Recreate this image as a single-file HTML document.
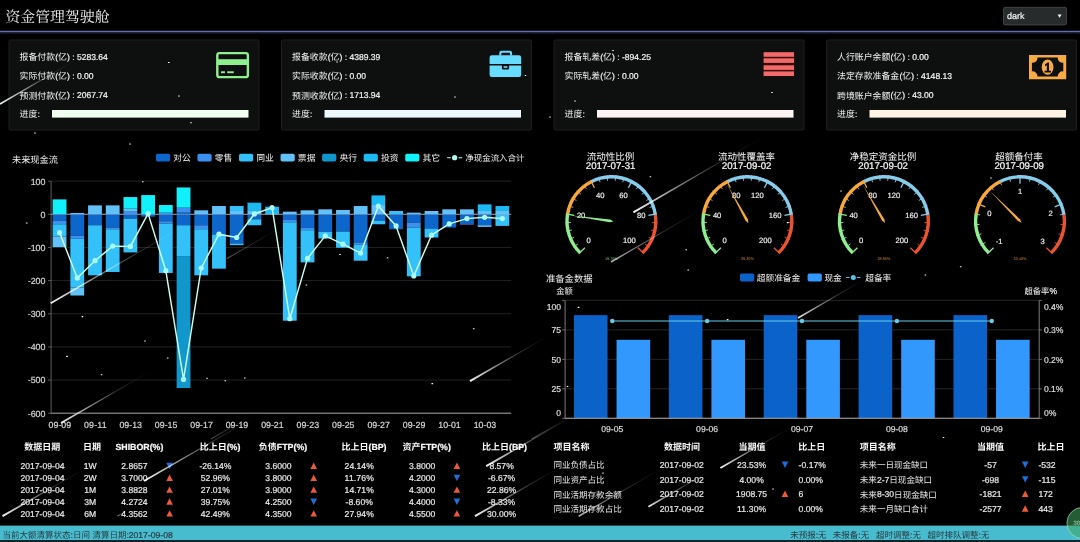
<!DOCTYPE html>
<html lang="zh"><head><meta charset="utf-8"><title>资金管理驾驶舱</title>
<style>html,body{margin:0;padding:0;background:#000;width:1080px;height:542px;overflow:hidden;font-family:"Liberation Sans","Noto Sans CJK SC",sans-serif}</style></head>
<body>
<svg role="img" aria-label="资金管理驾驶舱" width="1080" height="542" viewBox="0 0 1080 542" font-family="'Liberation Sans', 'Noto Sans CJK SC', sans-serif" text-rendering="geometricPrecision" style="position:absolute;left:0;top:0;display:block;will-change:transform;filter:blur(0.38px)"><defs><linearGradient id="k0" gradientUnits="userSpaceOnUse" x1="0" y1="104" x2="75" y2="60.5"><stop offset="0" stop-color="#fff" stop-opacity="0.95"/><stop offset=".3" stop-color="#fff" stop-opacity="0.57"/><stop offset=".62" stop-color="#fff" stop-opacity="0.19"/><stop offset="1" stop-color="#fff" stop-opacity="0"/></linearGradient><linearGradient id="k1" gradientUnits="userSpaceOnUse" x1="50.7" y1="303.2" x2="190" y2="222.5"><stop offset="0" stop-color="#fff" stop-opacity="0.95"/><stop offset=".3" stop-color="#fff" stop-opacity="0.57"/><stop offset=".62" stop-color="#fff" stop-opacity="0.19"/><stop offset="1" stop-color="#fff" stop-opacity="0"/></linearGradient><linearGradient id="k2" gradientUnits="userSpaceOnUse" x1="227" y1="258.6" x2="290" y2="222"><stop offset="0" stop-color="#fff" stop-opacity="0.35"/><stop offset=".3" stop-color="#fff" stop-opacity="0.21"/><stop offset=".62" stop-color="#fff" stop-opacity="0.07"/><stop offset="1" stop-color="#fff" stop-opacity="0"/></linearGradient><linearGradient id="k3" gradientUnits="userSpaceOnUse" x1="61" y1="423" x2="150" y2="371.5"><stop offset="0" stop-color="#fff" stop-opacity="0.95"/><stop offset=".3" stop-color="#fff" stop-opacity="0.57"/><stop offset=".62" stop-color="#fff" stop-opacity="0.19"/><stop offset="1" stop-color="#fff" stop-opacity="0"/></linearGradient><linearGradient id="k4" gradientUnits="userSpaceOnUse" x1="211" y1="439" x2="262" y2="409.5"><stop offset="0" stop-color="#fff" stop-opacity="0.3"/><stop offset=".3" stop-color="#fff" stop-opacity="0.18"/><stop offset=".62" stop-color="#fff" stop-opacity="0.06"/><stop offset="1" stop-color="#fff" stop-opacity="0"/></linearGradient><linearGradient id="k5" gradientUnits="userSpaceOnUse" x1="470" y1="381.2" x2="548" y2="336"><stop offset="0" stop-color="#fff" stop-opacity="0.95"/><stop offset=".3" stop-color="#fff" stop-opacity="0.57"/><stop offset=".62" stop-color="#fff" stop-opacity="0.19"/><stop offset="1" stop-color="#fff" stop-opacity="0"/></linearGradient><linearGradient id="k6" gradientUnits="userSpaceOnUse" x1="531.7" y1="439" x2="580" y2="411"><stop offset="0" stop-color="#fff" stop-opacity="0.3"/><stop offset=".3" stop-color="#fff" stop-opacity="0.18"/><stop offset=".62" stop-color="#fff" stop-opacity="0.06"/><stop offset="1" stop-color="#fff" stop-opacity="0"/></linearGradient><linearGradient id="k7" gradientUnits="userSpaceOnUse" x1="633.4" y1="212.4" x2="765" y2="136"><stop offset="0" stop-color="#fff" stop-opacity="0.95"/><stop offset=".3" stop-color="#fff" stop-opacity="0.57"/><stop offset=".62" stop-color="#fff" stop-opacity="0.19"/><stop offset="1" stop-color="#fff" stop-opacity="0"/></linearGradient><linearGradient id="k8" gradientUnits="userSpaceOnUse" x1="611" y1="262" x2="705" y2="207.5"><stop offset="0" stop-color="#fff" stop-opacity="0.7"/><stop offset=".3" stop-color="#fff" stop-opacity="0.42"/><stop offset=".62" stop-color="#fff" stop-opacity="0.14"/><stop offset="1" stop-color="#fff" stop-opacity="0"/></linearGradient><linearGradient id="k9" gradientUnits="userSpaceOnUse" x1="798" y1="318" x2="865" y2="279"><stop offset="0" stop-color="#fff" stop-opacity="0.9"/><stop offset=".3" stop-color="#fff" stop-opacity="0.54"/><stop offset=".62" stop-color="#fff" stop-opacity="0.18"/><stop offset="1" stop-color="#fff" stop-opacity="0"/></linearGradient><linearGradient id="k10" gradientUnits="userSpaceOnUse" x1="2.5" y1="516.2" x2="85" y2="468.5"><stop offset="0" stop-color="#fff" stop-opacity="0.95"/><stop offset=".3" stop-color="#fff" stop-opacity="0.57"/><stop offset=".62" stop-color="#fff" stop-opacity="0.19"/><stop offset="1" stop-color="#fff" stop-opacity="0"/></linearGradient><linearGradient id="k11" gradientUnits="userSpaceOnUse" x1="144" y1="481" x2="262" y2="413"><stop offset="0" stop-color="#fff" stop-opacity="0.95"/><stop offset=".3" stop-color="#fff" stop-opacity="0.57"/><stop offset=".62" stop-color="#fff" stop-opacity="0.19"/><stop offset="1" stop-color="#fff" stop-opacity="0"/></linearGradient><linearGradient id="k12" gradientUnits="userSpaceOnUse" x1="117.5" y1="516" x2="128" y2="510"><stop offset="0" stop-color="#fff" stop-opacity="0.5"/><stop offset=".3" stop-color="#fff" stop-opacity="0.3"/><stop offset=".62" stop-color="#fff" stop-opacity="0.1"/><stop offset="1" stop-color="#fff" stop-opacity="0"/></linearGradient><linearGradient id="k13" gradientUnits="userSpaceOnUse" x1="486.2" y1="466.2" x2="575" y2="415"><stop offset="0" stop-color="#fff" stop-opacity="0.95"/><stop offset=".3" stop-color="#fff" stop-opacity="0.57"/><stop offset=".62" stop-color="#fff" stop-opacity="0.19"/><stop offset="1" stop-color="#fff" stop-opacity="0"/></linearGradient><linearGradient id="k14" gradientUnits="userSpaceOnUse" x1="475" y1="516.2" x2="560" y2="467"><stop offset="0" stop-color="#fff" stop-opacity="0.95"/><stop offset=".3" stop-color="#fff" stop-opacity="0.57"/><stop offset=".62" stop-color="#fff" stop-opacity="0.19"/><stop offset="1" stop-color="#fff" stop-opacity="0"/></linearGradient><linearGradient id="k15" gradientUnits="userSpaceOnUse" x1="578.7" y1="516.2" x2="665" y2="466.5"><stop offset="0" stop-color="#fff" stop-opacity="0.7"/><stop offset=".3" stop-color="#fff" stop-opacity="0.42"/><stop offset=".62" stop-color="#fff" stop-opacity="0.14"/><stop offset="1" stop-color="#fff" stop-opacity="0"/></linearGradient><linearGradient id="k16" gradientUnits="userSpaceOnUse" x1="648.4" y1="506.7" x2="710" y2="471"><stop offset="0" stop-color="#fff" stop-opacity="0.9"/><stop offset=".3" stop-color="#fff" stop-opacity="0.54"/><stop offset=".62" stop-color="#fff" stop-opacity="0.18"/><stop offset="1" stop-color="#fff" stop-opacity="0"/></linearGradient><linearGradient id="k17" gradientUnits="userSpaceOnUse" x1="720.4" y1="468" x2="790" y2="428"><stop offset="0" stop-color="#fff" stop-opacity="0.95"/><stop offset=".3" stop-color="#fff" stop-opacity="0.57"/><stop offset=".62" stop-color="#fff" stop-opacity="0.19"/><stop offset="1" stop-color="#fff" stop-opacity="0"/></linearGradient></defs><text x="5.4" y="21.69" font-size="14.9" fill="#f2f2f2" font-family="'Liberation Serif', 'Noto Serif CJK SC', serif">资金管理驾驶舱</text><rect x="0" y="30.8" width="1080" height="1.6" fill="#5f6fae"/><rect x="0" y="32.4" width="1080" height="1.2" fill="#1a1f38"/><rect x="1003.5" y="7.3" width="63" height="17.6" rx="1.6" fill="#272b2b" stroke="#4a4d4d" stroke-width="0.8"/><text x="1007" y="19.24" font-size="9" fill="#f0f0f0" stroke="#f0f0f0" stroke-width="0.22" textLength="17.51" lengthAdjust="spacing" xml:space="preserve">dark</text><path d="M1057.6 14.4h4l-2 3.4z" fill="#f4f4f4"/><rect x="9" y="40" width="250" height="90" rx="1" fill="#0e0f0f" stroke="#1d1e1e" stroke-width="1"/><text x="19.6" y="60.14" font-size="8.9" fill="#f4f4f4">报备付款</text><text x="55.2" y="59.88" font-size="8.55" fill="#f4f4f4" stroke="#f4f4f4" stroke-width="0.21" xml:space="preserve">(</text><text x="58.05" y="60.14" font-size="8.9" fill="#f4f4f4">亿</text><text x="66.95" y="59.88" font-size="8.55" fill="#f4f4f4" stroke="#f4f4f4" stroke-width="0.21" textLength="40.88" lengthAdjust="spacing" xml:space="preserve">) : 5283.64</text><text x="19.6" y="79.34" font-size="8.9" fill="#f4f4f4">实际付款</text><text x="55.2" y="79.08" font-size="8.55" fill="#f4f4f4" stroke="#f4f4f4" stroke-width="0.21" xml:space="preserve">(</text><text x="58.05" y="79.34" font-size="8.9" fill="#f4f4f4">亿</text><text x="66.95" y="79.08" font-size="8.55" fill="#f4f4f4" stroke="#f4f4f4" stroke-width="0.21" textLength="26.61" lengthAdjust="spacing" xml:space="preserve">) : 0.00</text><text x="19.6" y="98.54" font-size="8.9" fill="#f4f4f4">预测付款</text><text x="55.2" y="98.28" font-size="8.55" fill="#f4f4f4" stroke="#f4f4f4" stroke-width="0.21" xml:space="preserve">(</text><text x="58.05" y="98.54" font-size="8.9" fill="#f4f4f4">亿</text><text x="66.95" y="98.28" font-size="8.55" fill="#f4f4f4" stroke="#f4f4f4" stroke-width="0.21" textLength="40.88" lengthAdjust="spacing" xml:space="preserve">) : 2067.74</text><text x="19.6" y="116.94" font-size="8.9" fill="#f4f4f4">进度</text><text x="37.4" y="116.68" font-size="8.55" fill="#f4f4f4" stroke="#f4f4f4" stroke-width="0.21" xml:space="preserve">:</text><rect x="52" y="110" width="196.5" height="7.6" fill="#f1fff1"/><rect x="281.5" y="40" width="250" height="90" rx="1" fill="#0e0f0f" stroke="#1d1e1e" stroke-width="1"/><text x="292.1" y="60.14" font-size="8.9" fill="#f4f4f4">报备收款</text><text x="327.7" y="59.88" font-size="8.55" fill="#f4f4f4" stroke="#f4f4f4" stroke-width="0.21" xml:space="preserve">(</text><text x="330.55" y="60.14" font-size="8.9" fill="#f4f4f4">亿</text><text x="339.45" y="59.88" font-size="8.55" fill="#f4f4f4" stroke="#f4f4f4" stroke-width="0.21" textLength="40.88" lengthAdjust="spacing" xml:space="preserve">) : 4389.39</text><text x="292.1" y="79.34" font-size="8.9" fill="#f4f4f4">实际收款</text><text x="327.7" y="79.08" font-size="8.55" fill="#f4f4f4" stroke="#f4f4f4" stroke-width="0.21" xml:space="preserve">(</text><text x="330.55" y="79.34" font-size="8.9" fill="#f4f4f4">亿</text><text x="339.45" y="79.08" font-size="8.55" fill="#f4f4f4" stroke="#f4f4f4" stroke-width="0.21" textLength="26.61" lengthAdjust="spacing" xml:space="preserve">) : 0.00</text><text x="292.1" y="98.54" font-size="8.9" fill="#f4f4f4">预测收款</text><text x="327.7" y="98.28" font-size="8.55" fill="#f4f4f4" stroke="#f4f4f4" stroke-width="0.21" xml:space="preserve">(</text><text x="330.55" y="98.54" font-size="8.9" fill="#f4f4f4">亿</text><text x="339.45" y="98.28" font-size="8.55" fill="#f4f4f4" stroke="#f4f4f4" stroke-width="0.21" textLength="40.88" lengthAdjust="spacing" xml:space="preserve">) : 1713.94</text><text x="292.1" y="116.94" font-size="8.9" fill="#f4f4f4">进度</text><text x="309.9" y="116.68" font-size="8.55" fill="#f4f4f4" stroke="#f4f4f4" stroke-width="0.21" xml:space="preserve">:</text><rect x="324.5" y="110" width="196.5" height="7.6" fill="#eefaff"/><rect x="554" y="40" width="250" height="90" rx="1" fill="#0e0f0f" stroke="#1d1e1e" stroke-width="1"/><text x="564.6" y="60.14" font-size="8.9" fill="#f4f4f4">报备轧差</text><text x="600.2" y="59.88" font-size="8.55" fill="#f4f4f4" stroke="#f4f4f4" stroke-width="0.21" xml:space="preserve">(</text><text x="603.05" y="60.14" font-size="8.9" fill="#f4f4f4">亿</text><text x="611.95" y="59.88" font-size="8.55" fill="#f4f4f4" stroke="#f4f4f4" stroke-width="0.21" textLength="38.97" lengthAdjust="spacing" xml:space="preserve">) : -894.25</text><text x="564.6" y="79.34" font-size="8.9" fill="#f4f4f4">实际轧差</text><text x="600.2" y="79.08" font-size="8.55" fill="#f4f4f4" stroke="#f4f4f4" stroke-width="0.21" xml:space="preserve">(</text><text x="603.05" y="79.34" font-size="8.9" fill="#f4f4f4">亿</text><text x="611.95" y="79.08" font-size="8.55" fill="#f4f4f4" stroke="#f4f4f4" stroke-width="0.21" textLength="26.61" lengthAdjust="spacing" xml:space="preserve">) : 0.00</text><text x="564.6" y="116.94" font-size="8.9" fill="#f4f4f4">进度</text><text x="582.4" y="116.68" font-size="8.55" fill="#f4f4f4" stroke="#f4f4f4" stroke-width="0.21" xml:space="preserve">:</text><rect x="597" y="110" width="196.5" height="7.6" fill="#fff3f3"/><rect x="826.5" y="40" width="250" height="90" rx="1" fill="#0e0f0f" stroke="#1d1e1e" stroke-width="1"/><text x="837.1" y="60.14" font-size="8.9" fill="#f4f4f4">人行账户余额</text><text x="890.5" y="59.88" font-size="8.55" fill="#f4f4f4" stroke="#f4f4f4" stroke-width="0.21" xml:space="preserve">(</text><text x="893.35" y="60.14" font-size="8.9" fill="#f4f4f4">亿</text><text x="902.25" y="59.88" font-size="8.55" fill="#f4f4f4" stroke="#f4f4f4" stroke-width="0.21" textLength="26.61" lengthAdjust="spacing" xml:space="preserve">) : 0.00</text><text x="837.1" y="79.34" font-size="8.9" fill="#f4f4f4">法定存款准备金</text><text x="899.4" y="79.08" font-size="8.55" fill="#f4f4f4" stroke="#f4f4f4" stroke-width="0.21" xml:space="preserve">(</text><text x="902.25" y="79.34" font-size="8.9" fill="#f4f4f4">亿</text><text x="911.15" y="79.08" font-size="8.55" fill="#f4f4f4" stroke="#f4f4f4" stroke-width="0.21" textLength="40.88" lengthAdjust="spacing" xml:space="preserve">) : 4148.13</text><text x="837.1" y="98.54" font-size="8.9" fill="#f4f4f4">跨境账户余额</text><text x="890.5" y="98.28" font-size="8.55" fill="#f4f4f4" stroke="#f4f4f4" stroke-width="0.21" xml:space="preserve">(</text><text x="893.35" y="98.54" font-size="8.9" fill="#f4f4f4">亿</text><text x="902.25" y="98.28" font-size="8.55" fill="#f4f4f4" stroke="#f4f4f4" stroke-width="0.21" textLength="31.37" lengthAdjust="spacing" xml:space="preserve">) : 43.00</text><text x="837.1" y="116.94" font-size="8.9" fill="#f4f4f4">进度</text><text x="854.9" y="116.68" font-size="8.55" fill="#f4f4f4" stroke="#f4f4f4" stroke-width="0.21" xml:space="preserve">:</text><rect x="869.5" y="110" width="196.5" height="7.6" fill="#fff4e4"/><g fill="none" stroke="#8df08d"><rect x="217.3" y="53.1" width="30.6" height="24" rx="2.2" stroke-width="2.4"/></g><rect x="217.3" y="59.2" width="30.6" height="5.8" fill="#8df08d"/><rect x="221" y="71.3" width="4" height="1.9" fill="#8df08d"/><rect x="227.2" y="71.3" width="6.6" height="1.9" fill="#8df08d"/><g fill="#68dcff"><path d="M499.3 55.4v-2.4a2.2 2.2 0 0 1 2.2-2.2h8.4a2.2 2.2 0 0 1 2.2 2.2v2.4h-2v-1.6a1 1 0 0 0-1-1h-6.8a1 1 0 0 0-1 1v1.6z"/><path d="M491.8 55.2h27.2a2.2 2.2 0 0 1 2.2 2.2v6.6h-31.6v-6.6a2.2 2.2 0 0 1 2.2-2.2z"/><path d="M489.6 65.6h12.3v2.6a1.2 1.2 0 0 0 1.2 1.2h4.8a1.2 1.2 0 0 0 1.2-1.2v-2.6h12.1v9.2a2.2 2.2 0 0 1-2.2 2.2h-27.2a2.2 2.2 0 0 1-2.2-2.2z"/><rect x="503.6" y="66.2" width="3.8" height="1.6" /></g><rect x="763.2" y="51.8" width="31.2" height="24.6" fill="#3a0606"/><rect x="763.6" y="52.2" width="30.4" height="4.6" fill="#f26b6b"/><rect x="763.6" y="58.3" width="30.4" height="4.6" fill="#f26b6b"/><rect x="763.6" y="65.3" width="30.4" height="4.6" fill="#f26b6b"/><rect x="763.6" y="71.4" width="30.4" height="4.6" fill="#f26b6b"/><path fill="#f7ab45" fill-rule="evenodd" d="M1029 55h37.2v24.2h-37.2z M1037.5 57.6 a5 5 0 0 1 -5.6 5.2 v8.6 a5 5 0 0 1 5.6 5.2 h20.2 a5 5 0 0 1 5.6 -5.2 v-8.6 a5 5 0 0 1 -5.6 -5.2z"/><ellipse cx="1047.6" cy="67.1" rx="5.9" ry="7.6" fill="#f7ab45"/><path d="M1045 64.6l2.6-2.1h1.4v8.2h2v1.7h-6.4v-1.7h2.2v-5.4l-1.8 1z" fill="#0e0f0f"/><text x="12" y="162.75" font-size="9.2" fill="#f0f0f0">未来现金流</text><rect x="155.9" y="153.8" width="14.2" height="7.8" rx="1.8" fill="#0d66cc"/><text x="173.2" y="161.2" font-size="8.8" fill="#f0f0f0">对公</text><rect x="197.45" y="153.8" width="14.2" height="7.8" rx="1.8" fill="#3b90f2"/><text x="214.75" y="161.2" font-size="8.8" fill="#f0f0f0">零售</text><rect x="239" y="153.8" width="14.2" height="7.8" rx="1.8" fill="#34c1fa"/><text x="256.3" y="161.2" font-size="8.8" fill="#f0f0f0">同业</text><rect x="280.55" y="153.8" width="14.2" height="7.8" rx="1.8" fill="#62c1f9"/><text x="297.85" y="161.2" font-size="8.8" fill="#f0f0f0">票据</text><rect x="322.1" y="153.8" width="14.2" height="7.8" rx="1.8" fill="#1297cd"/><text x="339.4" y="161.2" font-size="8.8" fill="#f0f0f0">央行</text><rect x="363.65" y="153.8" width="14.2" height="7.8" rx="1.8" fill="#1bbaf2"/><text x="380.95" y="161.2" font-size="8.8" fill="#f0f0f0">投资</text><rect x="405.2" y="153.8" width="14.2" height="7.8" rx="1.8" fill="#10f1fb"/><text x="422.5" y="161.2" font-size="8.8" fill="#f0f0f0">其它</text><line x1="447.15" y1="157.7" x2="462.15" y2="157.7" stroke="#c6fff2" stroke-width="1.1" stroke-dasharray="3.6 7.8 3.6"/><circle cx="454.65" cy="157.7" r="2.6" fill="#a8fbf2"/><text x="465.35" y="161.07" font-size="8.45" fill="#f0f0f0">净现金流入合计</text><line x1="50.7" y1="181.15" x2="511.2" y2="181.15" stroke="#262626" stroke-width="0.9"/><text x="30.65" y="184.55" font-size="8.9" fill="#d2d2d2" stroke="#d2d2d2" stroke-width="0.21" textLength="14.85" lengthAdjust="spacing" xml:space="preserve">100</text><line x1="48.2" y1="181.15" x2="50.7" y2="181.15" stroke="#7a7a7a" stroke-width="0.8"/><line x1="50.7" y1="214.3" x2="511.2" y2="214.3" stroke="#8c8c8c" stroke-width="0.9"/><text x="40.55" y="217.7" font-size="8.9" fill="#d2d2d2" stroke="#d2d2d2" stroke-width="0.21" xml:space="preserve">0</text><line x1="48.2" y1="214.3" x2="50.7" y2="214.3" stroke="#7a7a7a" stroke-width="0.8"/><line x1="50.7" y1="247.45" x2="511.2" y2="247.45" stroke="#262626" stroke-width="0.9"/><text x="27.69" y="250.85" font-size="8.9" fill="#d2d2d2" stroke="#d2d2d2" stroke-width="0.21" textLength="17.81" lengthAdjust="spacing" xml:space="preserve">-100</text><line x1="48.2" y1="247.45" x2="50.7" y2="247.45" stroke="#7a7a7a" stroke-width="0.8"/><line x1="50.7" y1="280.6" x2="511.2" y2="280.6" stroke="#262626" stroke-width="0.9"/><text x="27.69" y="284" font-size="8.9" fill="#d2d2d2" stroke="#d2d2d2" stroke-width="0.21" textLength="17.81" lengthAdjust="spacing" xml:space="preserve">-200</text><line x1="48.2" y1="280.6" x2="50.7" y2="280.6" stroke="#7a7a7a" stroke-width="0.8"/><line x1="50.7" y1="313.75" x2="511.2" y2="313.75" stroke="#262626" stroke-width="0.9"/><text x="27.69" y="317.15" font-size="8.9" fill="#d2d2d2" stroke="#d2d2d2" stroke-width="0.21" textLength="17.81" lengthAdjust="spacing" xml:space="preserve">-300</text><line x1="48.2" y1="313.75" x2="50.7" y2="313.75" stroke="#7a7a7a" stroke-width="0.8"/><line x1="50.7" y1="346.9" x2="511.2" y2="346.9" stroke="#262626" stroke-width="0.9"/><text x="27.69" y="350.3" font-size="8.9" fill="#d2d2d2" stroke="#d2d2d2" stroke-width="0.21" textLength="17.81" lengthAdjust="spacing" xml:space="preserve">-400</text><line x1="48.2" y1="346.9" x2="50.7" y2="346.9" stroke="#7a7a7a" stroke-width="0.8"/><line x1="50.7" y1="380.05" x2="511.2" y2="380.05" stroke="#262626" stroke-width="0.9"/><text x="27.69" y="383.45" font-size="8.9" fill="#d2d2d2" stroke="#d2d2d2" stroke-width="0.21" textLength="17.81" lengthAdjust="spacing" xml:space="preserve">-500</text><line x1="48.2" y1="380.05" x2="50.7" y2="380.05" stroke="#7a7a7a" stroke-width="0.8"/><line x1="50.7" y1="413.2" x2="511.2" y2="413.2" stroke="#262626" stroke-width="0.9"/><text x="27.69" y="416.6" font-size="8.9" fill="#d2d2d2" stroke="#d2d2d2" stroke-width="0.21" textLength="17.81" lengthAdjust="spacing" xml:space="preserve">-600</text><line x1="48.2" y1="413.2" x2="50.7" y2="413.2" stroke="#7a7a7a" stroke-width="0.8"/><line x1="51.1" y1="181.15" x2="51.1" y2="413.2" stroke="#6a6a6a" stroke-width="0.9"/><line x1="50.7" y1="413.2" x2="511.2" y2="413.2" stroke="#9a9a9a" stroke-width="1"/><rect x="52.66" y="199.38" width="13.8" height="14.92" fill="#10f1fb"/><rect x="52.66" y="214.3" width="13.8" height="6.3" fill="#0d66cc"/><rect x="52.66" y="220.6" width="13.8" height="3.65" fill="#3b90f2"/><rect x="52.66" y="224.25" width="13.8" height="12.27" fill="#34c1fa"/><rect x="52.66" y="236.51" width="13.8" height="10.61" fill="#62c1f9"/><text x="48.6" y="427.77" font-size="8.8" fill="#d6d6d6" stroke="#d6d6d6" stroke-width="0.21" textLength="22.51" lengthAdjust="spacing" xml:space="preserve">09-09</text><rect x="70.37" y="212.97" width="13.8" height="1.33" fill="#62c1f9"/><rect x="70.37" y="214.3" width="13.8" height="21.55" fill="#0d66cc"/><rect x="70.37" y="235.85" width="13.8" height="2.98" fill="#3b90f2"/><rect x="70.37" y="238.83" width="13.8" height="48.73" fill="#34c1fa"/><rect x="70.37" y="287.56" width="13.8" height="7.96" fill="#62c1f9"/><rect x="88.08" y="205.35" width="13.8" height="8.95" fill="#62c1f9"/><rect x="88.08" y="214.3" width="13.8" height="10.94" fill="#0d66cc"/><rect x="88.08" y="225.24" width="13.8" height="50.06" fill="#34c1fa"/><text x="84.03" y="427.77" font-size="8.8" fill="#d6d6d6" stroke="#d6d6d6" stroke-width="0.21" textLength="22.51" lengthAdjust="spacing" xml:space="preserve">09-11</text><rect x="105.79" y="205.35" width="13.8" height="8.95" fill="#62c1f9"/><rect x="105.79" y="214.3" width="13.8" height="13.26" fill="#0d66cc"/><rect x="105.79" y="227.56" width="13.8" height="1.66" fill="#3b90f2"/><rect x="105.79" y="229.22" width="13.8" height="42.76" fill="#34c1fa"/><rect x="123.5" y="211.65" width="13.8" height="2.65" fill="#3b90f2"/><rect x="123.5" y="208.66" width="13.8" height="2.98" fill="#62c1f9"/><rect x="123.5" y="197.06" width="13.8" height="11.6" fill="#10f1fb"/><rect x="123.5" y="214.3" width="13.8" height="4.31" fill="#0d66cc"/><rect x="123.5" y="218.61" width="13.8" height="33.81" fill="#34c1fa"/><text x="119.45" y="427.77" font-size="8.8" fill="#d6d6d6" stroke="#d6d6d6" stroke-width="0.21" textLength="22.51" lengthAdjust="spacing" xml:space="preserve">09-13</text><rect x="141.21" y="195.07" width="13.8" height="19.23" fill="#10f1fb"/><rect x="141.21" y="214.3" width="13.8" height="2.32" fill="#0d66cc"/><rect x="158.92" y="212.64" width="13.8" height="1.66" fill="#3b90f2"/><rect x="158.92" y="205.02" width="13.8" height="7.62" fill="#10f1fb"/><rect x="158.92" y="214.3" width="13.8" height="6.96" fill="#0d66cc"/><rect x="158.92" y="221.26" width="13.8" height="2.32" fill="#3b90f2"/><rect x="158.92" y="223.58" width="13.8" height="49.39" fill="#34c1fa"/><text x="154.87" y="427.77" font-size="8.8" fill="#d6d6d6" stroke="#d6d6d6" stroke-width="0.21" textLength="22.51" lengthAdjust="spacing" xml:space="preserve">09-15</text><rect x="176.64" y="212.64" width="13.8" height="1.66" fill="#0d66cc"/><rect x="176.64" y="207.67" width="13.8" height="4.97" fill="#3b90f2"/><rect x="176.64" y="187.45" width="13.8" height="20.22" fill="#10f1fb"/><rect x="176.64" y="214.3" width="13.8" height="10.94" fill="#0d66cc"/><rect x="176.64" y="225.24" width="13.8" height="30.83" fill="#34c1fa"/><rect x="176.64" y="256.07" width="13.8" height="131.94" fill="#1297cd"/><rect x="194.35" y="210.32" width="13.8" height="3.98" fill="#62c1f9"/><rect x="194.35" y="214.3" width="13.8" height="10.94" fill="#0d66cc"/><rect x="194.35" y="225.24" width="13.8" height="3.98" fill="#3b90f2"/><rect x="194.35" y="229.22" width="13.8" height="46.08" fill="#34c1fa"/><text x="190.29" y="427.77" font-size="8.8" fill="#d6d6d6" stroke="#d6d6d6" stroke-width="0.21" textLength="22.51" lengthAdjust="spacing" xml:space="preserve">09-17</text><rect x="212.06" y="206.01" width="13.8" height="8.29" fill="#62c1f9"/><rect x="212.06" y="214.3" width="13.8" height="20.22" fill="#0d66cc"/><rect x="212.06" y="234.52" width="13.8" height="34.14" fill="#34c1fa"/><rect x="229.77" y="210.99" width="13.8" height="3.32" fill="#62c1f9"/><rect x="229.77" y="206.01" width="13.8" height="4.97" fill="#34c1fa"/><rect x="229.77" y="214.3" width="13.8" height="29.17" fill="#0d66cc"/><rect x="229.77" y="243.47" width="13.8" height="1.66" fill="#34c1fa"/><text x="225.72" y="427.77" font-size="8.8" fill="#d6d6d6" stroke="#d6d6d6" stroke-width="0.21" textLength="22.51" lengthAdjust="spacing" xml:space="preserve">09-19</text><rect x="247.48" y="210.99" width="13.8" height="3.32" fill="#62c1f9"/><rect x="247.48" y="202.7" width="13.8" height="8.29" fill="#1bbaf2"/><rect x="247.48" y="214.3" width="13.8" height="4.97" fill="#0d66cc"/><rect x="247.48" y="219.27" width="13.8" height="5.97" fill="#34c1fa"/><rect x="265.19" y="206.68" width="13.8" height="7.62" fill="#1bbaf2"/><text x="261.14" y="427.77" font-size="8.8" fill="#d6d6d6" stroke="#d6d6d6" stroke-width="0.21" textLength="22.51" lengthAdjust="spacing" xml:space="preserve">09-21</text><rect x="282.91" y="211.65" width="13.8" height="2.65" fill="#62c1f9"/><rect x="282.91" y="214.3" width="13.8" height="5.64" fill="#0d66cc"/><rect x="282.91" y="219.94" width="13.8" height="2.32" fill="#3b90f2"/><rect x="282.91" y="222.26" width="13.8" height="98.46" fill="#34c1fa"/><rect x="300.62" y="210.32" width="13.8" height="3.98" fill="#62c1f9"/><rect x="300.62" y="214.3" width="13.8" height="13.59" fill="#0d66cc"/><rect x="300.62" y="227.89" width="13.8" height="2.32" fill="#3b90f2"/><rect x="300.62" y="230.21" width="13.8" height="32.16" fill="#34c1fa"/><text x="296.56" y="427.77" font-size="8.8" fill="#d6d6d6" stroke="#d6d6d6" stroke-width="0.21" textLength="22.51" lengthAdjust="spacing" xml:space="preserve">09-23</text><rect x="318.33" y="209.33" width="13.8" height="4.97" fill="#62c1f9"/><rect x="318.33" y="214.3" width="13.8" height="17.57" fill="#0d66cc"/><rect x="318.33" y="231.87" width="13.8" height="6.63" fill="#34c1fa"/><rect x="336.04" y="209.99" width="13.8" height="4.31" fill="#62c1f9"/><rect x="336.04" y="214.3" width="13.8" height="17.24" fill="#0d66cc"/><rect x="336.04" y="231.54" width="13.8" height="16.24" fill="#34c1fa"/><text x="331.99" y="427.77" font-size="8.8" fill="#d6d6d6" stroke="#d6d6d6" stroke-width="0.21" textLength="22.51" lengthAdjust="spacing" xml:space="preserve">09-25</text><rect x="353.75" y="206.01" width="13.8" height="8.29" fill="#62c1f9"/><rect x="353.75" y="214.3" width="13.8" height="28.18" fill="#0d66cc"/><rect x="353.75" y="242.48" width="13.8" height="2.32" fill="#3b90f2"/><rect x="353.75" y="244.8" width="13.8" height="15.91" fill="#34c1fa"/><rect x="371.46" y="205.02" width="13.8" height="9.28" fill="#62c1f9"/><rect x="371.46" y="195.4" width="13.8" height="9.61" fill="#1bbaf2"/><rect x="371.46" y="214.3" width="13.8" height="6.3" fill="#0d66cc"/><rect x="371.46" y="220.6" width="13.8" height="3.65" fill="#34c1fa"/><text x="367.41" y="427.77" font-size="8.8" fill="#d6d6d6" stroke="#d6d6d6" stroke-width="0.21" textLength="22.51" lengthAdjust="spacing" xml:space="preserve">09-27</text><rect x="389.17" y="210.99" width="13.8" height="3.32" fill="#34c1fa"/><rect x="389.17" y="214.3" width="13.8" height="14.25" fill="#0d66cc"/><rect x="389.17" y="228.55" width="13.8" height="0.66" fill="#3b90f2"/><rect x="406.89" y="212.64" width="13.8" height="1.66" fill="#62c1f9"/><rect x="406.89" y="214.3" width="13.8" height="8.29" fill="#0d66cc"/><rect x="406.89" y="222.59" width="13.8" height="4.97" fill="#3b90f2"/><rect x="406.89" y="227.56" width="13.8" height="48.73" fill="#34c1fa"/><text x="402.83" y="427.77" font-size="8.8" fill="#d6d6d6" stroke="#d6d6d6" stroke-width="0.21" textLength="22.51" lengthAdjust="spacing" xml:space="preserve">09-29</text><rect x="424.6" y="210.99" width="13.8" height="3.32" fill="#62c1f9"/><rect x="424.6" y="214.3" width="13.8" height="14.25" fill="#0d66cc"/><rect x="424.6" y="228.55" width="13.8" height="8.95" fill="#34c1fa"/><rect x="442.31" y="209.33" width="13.8" height="4.97" fill="#62c1f9"/><rect x="442.31" y="214.3" width="13.8" height="13.26" fill="#0d66cc"/><text x="438.26" y="427.77" font-size="8.8" fill="#d6d6d6" stroke="#d6d6d6" stroke-width="0.21" textLength="22.51" lengthAdjust="spacing" xml:space="preserve">10-01</text><rect x="460.02" y="209.33" width="13.8" height="4.97" fill="#62c1f9"/><rect x="460.02" y="214.3" width="13.8" height="9.28" fill="#0d66cc"/><rect x="460.02" y="223.58" width="13.8" height="0.99" fill="#3b90f2"/><rect x="477.73" y="210.99" width="13.8" height="3.32" fill="#62c1f9"/><rect x="477.73" y="204.36" width="13.8" height="6.63" fill="#1bbaf2"/><rect x="477.73" y="214.3" width="13.8" height="10.94" fill="#0d66cc"/><rect x="477.73" y="225.24" width="13.8" height="1.66" fill="#62c1f9"/><text x="473.68" y="427.77" font-size="8.8" fill="#d6d6d6" stroke="#d6d6d6" stroke-width="0.21" textLength="22.51" lengthAdjust="spacing" xml:space="preserve">10-03</text><rect x="495.44" y="210.99" width="13.8" height="3.32" fill="#62c1f9"/><rect x="495.44" y="206.01" width="13.8" height="4.97" fill="#1bbaf2"/><rect x="495.44" y="214.3" width="13.8" height="11.6" fill="#34c1fa"/><line x1="50.7" y1="214.3" x2="511.2" y2="214.3" stroke="#b9c4d6" stroke-width="0.7" opacity="0.55"/><polyline fill="none" stroke="#c9fff1" stroke-width="1.45" stroke-linejoin="round" points="59.56,232.53 77.27,277.95 94.98,260.71 112.69,246.12 130.4,246.46 148.11,213.64 165.82,270.66 183.54,379.39 201.25,268 218.96,234.19 236.67,237.51 254.38,213.97 272.09,207.67 289.81,318.72 307.52,258.39 325.23,235.85 342.94,244.14 360.65,253.09 378.36,206.01 396.07,225.9 413.79,275.96 431.5,235.18 449.21,223.91 466.92,218.61 484.63,217.28 502.34,218.61"/><circle cx="59.56" cy="232.53" r="2.6" fill="#aafcf3"/><circle cx="77.27" cy="277.95" r="2.6" fill="#aafcf3"/><circle cx="94.98" cy="260.71" r="2.6" fill="#aafcf3"/><circle cx="112.69" cy="246.12" r="2.6" fill="#aafcf3"/><circle cx="130.4" cy="246.46" r="2.6" fill="#aafcf3"/><circle cx="148.11" cy="213.64" r="2.6" fill="#aafcf3"/><circle cx="165.82" cy="270.66" r="2.6" fill="#aafcf3"/><circle cx="183.54" cy="379.39" r="2.6" fill="#aafcf3"/><circle cx="201.25" cy="268" r="2.6" fill="#aafcf3"/><circle cx="218.96" cy="234.19" r="2.6" fill="#aafcf3"/><circle cx="236.67" cy="237.51" r="2.6" fill="#aafcf3"/><circle cx="254.38" cy="213.97" r="2.6" fill="#aafcf3"/><circle cx="272.09" cy="207.67" r="2.6" fill="#aafcf3"/><circle cx="289.81" cy="318.72" r="2.6" fill="#aafcf3"/><circle cx="307.52" cy="258.39" r="2.6" fill="#aafcf3"/><circle cx="325.23" cy="235.85" r="2.6" fill="#aafcf3"/><circle cx="342.94" cy="244.14" r="2.6" fill="#aafcf3"/><circle cx="360.65" cy="253.09" r="2.6" fill="#aafcf3"/><circle cx="378.36" cy="206.01" r="2.6" fill="#aafcf3"/><circle cx="396.07" cy="225.9" r="2.6" fill="#aafcf3"/><circle cx="413.79" cy="275.96" r="2.6" fill="#aafcf3"/><circle cx="431.5" cy="235.18" r="2.6" fill="#aafcf3"/><circle cx="449.21" cy="223.91" r="2.6" fill="#aafcf3"/><circle cx="466.92" cy="218.61" r="2.6" fill="#aafcf3"/><circle cx="484.63" cy="217.28" r="2.6" fill="#aafcf3"/><circle cx="502.34" cy="218.61" r="2.6" fill="#aafcf3"/><text x="586.65" y="159.66" font-size="9.5" fill="#f6f6f6">流动性比例</text><text x="585.79" y="169.39" font-size="9.7" fill="#f6f6f6" stroke="#f6f6f6" stroke-width="0.23" textLength="49.62" lengthAdjust="spacing" xml:space="preserve">2017-07-31</text><path d="M580 252.6A44.4 44.4 0 0 1 567.55 214.25" fill="none" stroke="#8eee90" stroke-width="3.4"/><path d="M567.55 214.25A44.4 44.4 0 0 1 591.24 181.64" fill="none" stroke="#f8a83c" stroke-width="3.4"/><path d="M591.24 181.64A44.4 44.4 0 0 1 655.25 214.25" fill="none" stroke="#86cdec" stroke-width="3.4"/><path d="M655.25 214.25A44.4 44.4 0 0 1 642.8 252.6" fill="none" stroke="#ea5430" stroke-width="3.4"/><line x1="578.8" y1="253.8" x2="584.88" y2="247.72" stroke="#8eee90" stroke-width="1.25"/><line x1="573.27" y1="247.11" x2="577.82" y2="244.02" stroke="#8eee90" stroke-width="0.9"/><line x1="569.09" y1="239.51" x2="574.14" y2="237.32" stroke="#8eee90" stroke-width="0.9"/><line x1="566.41" y1="231.26" x2="571.78" y2="230.06" stroke="#8eee90" stroke-width="0.9"/><line x1="565.32" y1="222.65" x2="570.82" y2="222.48" stroke="#8eee90" stroke-width="0.9"/><line x1="565.87" y1="213.99" x2="574.36" y2="215.33" stroke="#8eee90" stroke-width="1.25"/><line x1="568.03" y1="205.58" x2="573.2" y2="207.45" stroke="#f8a83c" stroke-width="0.9"/><line x1="571.72" y1="197.73" x2="576.45" y2="200.53" stroke="#f8a83c" stroke-width="0.9"/><line x1="576.82" y1="190.71" x2="580.95" y2="194.35" stroke="#f8a83c" stroke-width="0.9"/><line x1="583.14" y1="184.77" x2="586.52" y2="189.12" stroke="#f8a83c" stroke-width="0.9"/><line x1="590.47" y1="180.12" x2="594.38" y2="187.79" stroke="#f8a83c" stroke-width="1.25"/><line x1="598.54" y1="176.93" x2="600.07" y2="182.21" stroke="#86cdec" stroke-width="0.9"/><line x1="607.06" y1="175.3" x2="607.58" y2="180.78" stroke="#86cdec" stroke-width="0.9"/><line x1="615.74" y1="175.3" x2="615.22" y2="180.78" stroke="#86cdec" stroke-width="0.9"/><line x1="624.26" y1="176.93" x2="622.73" y2="182.21" stroke="#86cdec" stroke-width="0.9"/><line x1="632.33" y1="180.12" x2="628.42" y2="187.79" stroke="#86cdec" stroke-width="1.25"/><line x1="639.66" y1="184.77" x2="636.28" y2="189.12" stroke="#86cdec" stroke-width="0.9"/><line x1="645.98" y1="190.71" x2="641.85" y2="194.35" stroke="#86cdec" stroke-width="0.9"/><line x1="651.08" y1="197.73" x2="646.35" y2="200.53" stroke="#86cdec" stroke-width="0.9"/><line x1="654.77" y1="205.58" x2="649.6" y2="207.45" stroke="#86cdec" stroke-width="0.9"/><line x1="656.93" y1="213.99" x2="648.44" y2="215.33" stroke="#86cdec" stroke-width="1.25"/><line x1="657.48" y1="222.65" x2="651.98" y2="222.48" stroke="#ea5430" stroke-width="0.9"/><line x1="656.39" y1="231.26" x2="651.02" y2="230.06" stroke="#ea5430" stroke-width="0.9"/><line x1="653.71" y1="239.51" x2="648.66" y2="237.32" stroke="#ea5430" stroke-width="0.9"/><line x1="649.53" y1="247.11" x2="644.98" y2="244.02" stroke="#ea5430" stroke-width="0.9"/><line x1="644" y1="253.8" x2="637.92" y2="247.72" stroke="#ea5430" stroke-width="1.25"/><text x="586.6" y="243.34" font-size="7.6" fill="#ececec" stroke="#ececec" stroke-width="0.18" xml:space="preserve">0</text><text x="576.9" y="217.84" font-size="7.6" fill="#ececec" stroke="#ececec" stroke-width="0.18" textLength="8.45" lengthAdjust="spacing" xml:space="preserve">20</text><text x="596" y="197.54" font-size="7.6" fill="#ececec" stroke="#ececec" stroke-width="0.18" textLength="8.45" lengthAdjust="spacing" xml:space="preserve">40</text><text x="619.35" y="197.54" font-size="7.6" fill="#ececec" stroke="#ececec" stroke-width="0.18" textLength="8.45" lengthAdjust="spacing" xml:space="preserve">60</text><text x="636.95" y="217.84" font-size="7.6" fill="#ececec" stroke="#ececec" stroke-width="0.18" textLength="8.45" lengthAdjust="spacing" xml:space="preserve">80</text><text x="623.02" y="243.34" font-size="7.6" fill="#ececec" stroke="#ececec" stroke-width="0.18" textLength="12.68" lengthAdjust="spacing" xml:space="preserve">100</text><path d="M613.58 221.51L610.11 219.6L569.33 215.15L609.72 222.37z" fill="#8eee90"/><text x="604.96" y="259.57" font-size="3.8" fill="#8eee90" opacity="0.8" textLength="12.89" lengthAdjust="spacing" xml:space="preserve">19.70%</text><text x="717.9" y="159.66" font-size="9.5" fill="#f6f6f6">流动性覆盖率</text><text x="721.79" y="169.39" font-size="9.7" fill="#f6f6f6" stroke="#f6f6f6" stroke-width="0.23" textLength="49.62" lengthAdjust="spacing" xml:space="preserve">2017-09-02</text><path d="M716 252.6A44.4 44.4 0 0 1 703.55 214.25" fill="none" stroke="#8eee90" stroke-width="3.4"/><path d="M703.55 214.25A44.4 44.4 0 0 1 727.24 181.64" fill="none" stroke="#f8a83c" stroke-width="3.4"/><path d="M727.24 181.64A44.4 44.4 0 0 1 791.25 214.25" fill="none" stroke="#86cdec" stroke-width="3.4"/><path d="M791.25 214.25A44.4 44.4 0 0 1 778.8 252.6" fill="none" stroke="#ea5430" stroke-width="3.4"/><line x1="714.8" y1="253.8" x2="720.88" y2="247.72" stroke="#8eee90" stroke-width="1.25"/><line x1="709.27" y1="247.11" x2="713.82" y2="244.02" stroke="#8eee90" stroke-width="0.9"/><line x1="705.09" y1="239.51" x2="710.14" y2="237.32" stroke="#8eee90" stroke-width="0.9"/><line x1="702.41" y1="231.26" x2="707.78" y2="230.06" stroke="#8eee90" stroke-width="0.9"/><line x1="701.32" y1="222.65" x2="706.82" y2="222.48" stroke="#8eee90" stroke-width="0.9"/><line x1="701.87" y1="213.99" x2="710.36" y2="215.33" stroke="#8eee90" stroke-width="1.25"/><line x1="704.03" y1="205.58" x2="709.2" y2="207.45" stroke="#f8a83c" stroke-width="0.9"/><line x1="707.72" y1="197.73" x2="712.45" y2="200.53" stroke="#f8a83c" stroke-width="0.9"/><line x1="712.82" y1="190.71" x2="716.95" y2="194.35" stroke="#f8a83c" stroke-width="0.9"/><line x1="719.14" y1="184.77" x2="722.52" y2="189.12" stroke="#f8a83c" stroke-width="0.9"/><line x1="726.47" y1="180.12" x2="730.38" y2="187.79" stroke="#f8a83c" stroke-width="1.25"/><line x1="734.54" y1="176.93" x2="736.07" y2="182.21" stroke="#86cdec" stroke-width="0.9"/><line x1="743.06" y1="175.3" x2="743.58" y2="180.78" stroke="#86cdec" stroke-width="0.9"/><line x1="751.74" y1="175.3" x2="751.22" y2="180.78" stroke="#86cdec" stroke-width="0.9"/><line x1="760.26" y1="176.93" x2="758.73" y2="182.21" stroke="#86cdec" stroke-width="0.9"/><line x1="768.33" y1="180.12" x2="764.42" y2="187.79" stroke="#86cdec" stroke-width="1.25"/><line x1="775.66" y1="184.77" x2="772.28" y2="189.12" stroke="#86cdec" stroke-width="0.9"/><line x1="781.98" y1="190.71" x2="777.85" y2="194.35" stroke="#86cdec" stroke-width="0.9"/><line x1="787.08" y1="197.73" x2="782.35" y2="200.53" stroke="#86cdec" stroke-width="0.9"/><line x1="790.77" y1="205.58" x2="785.6" y2="207.45" stroke="#86cdec" stroke-width="0.9"/><line x1="792.93" y1="213.99" x2="784.44" y2="215.33" stroke="#86cdec" stroke-width="1.25"/><line x1="793.48" y1="222.65" x2="787.98" y2="222.48" stroke="#ea5430" stroke-width="0.9"/><line x1="792.39" y1="231.26" x2="787.02" y2="230.06" stroke="#ea5430" stroke-width="0.9"/><line x1="789.71" y1="239.51" x2="784.66" y2="237.32" stroke="#ea5430" stroke-width="0.9"/><line x1="785.53" y1="247.11" x2="780.98" y2="244.02" stroke="#ea5430" stroke-width="0.9"/><line x1="780" y1="253.8" x2="773.92" y2="247.72" stroke="#ea5430" stroke-width="1.25"/><text x="722.6" y="243.34" font-size="7.6" fill="#ececec" stroke="#ececec" stroke-width="0.18" xml:space="preserve">0</text><text x="712.9" y="217.84" font-size="7.6" fill="#ececec" stroke="#ececec" stroke-width="0.18" textLength="8.45" lengthAdjust="spacing" xml:space="preserve">40</text><text x="732" y="197.54" font-size="7.6" fill="#ececec" stroke="#ececec" stroke-width="0.18" textLength="8.45" lengthAdjust="spacing" xml:space="preserve">80</text><text x="751.12" y="197.54" font-size="7.6" fill="#ececec" stroke="#ececec" stroke-width="0.18" textLength="12.68" lengthAdjust="spacing" xml:space="preserve">120</text><text x="768.72" y="217.84" font-size="7.6" fill="#ececec" stroke="#ececec" stroke-width="0.18" textLength="12.68" lengthAdjust="spacing" xml:space="preserve">160</text><text x="759.02" y="243.34" font-size="7.6" fill="#ececec" stroke="#ececec" stroke-width="0.18" textLength="12.68" lengthAdjust="spacing" xml:space="preserve">200</text><path d="M748.46 223.13L747.9 219.21L726.87 183.99L745.45 220.56z" fill="#f8a83c"/><text x="740.96" y="259.57" font-size="3.8" fill="#f8a83c" opacity="0.8" textLength="12.89" lengthAdjust="spacing" xml:space="preserve">39.30%</text><text x="849.65" y="159.66" font-size="9.5" fill="#f6f6f6">净稳定资金比例</text><text x="858.29" y="169.39" font-size="9.7" fill="#f6f6f6" stroke="#f6f6f6" stroke-width="0.23" textLength="49.62" lengthAdjust="spacing" xml:space="preserve">2017-09-02</text><path d="M852.5 252.6A44.4 44.4 0 0 1 840.05 214.25" fill="none" stroke="#8eee90" stroke-width="3.4"/><path d="M840.05 214.25A44.4 44.4 0 0 1 863.74 181.64" fill="none" stroke="#f8a83c" stroke-width="3.4"/><path d="M863.74 181.64A44.4 44.4 0 0 1 927.75 214.25" fill="none" stroke="#86cdec" stroke-width="3.4"/><path d="M927.75 214.25A44.4 44.4 0 0 1 915.3 252.6" fill="none" stroke="#ea5430" stroke-width="3.4"/><line x1="851.3" y1="253.8" x2="857.38" y2="247.72" stroke="#8eee90" stroke-width="1.25"/><line x1="845.77" y1="247.11" x2="850.32" y2="244.02" stroke="#8eee90" stroke-width="0.9"/><line x1="841.59" y1="239.51" x2="846.64" y2="237.32" stroke="#8eee90" stroke-width="0.9"/><line x1="838.91" y1="231.26" x2="844.28" y2="230.06" stroke="#8eee90" stroke-width="0.9"/><line x1="837.82" y1="222.65" x2="843.32" y2="222.48" stroke="#8eee90" stroke-width="0.9"/><line x1="838.37" y1="213.99" x2="846.86" y2="215.33" stroke="#8eee90" stroke-width="1.25"/><line x1="840.53" y1="205.58" x2="845.7" y2="207.45" stroke="#f8a83c" stroke-width="0.9"/><line x1="844.22" y1="197.73" x2="848.95" y2="200.53" stroke="#f8a83c" stroke-width="0.9"/><line x1="849.32" y1="190.71" x2="853.45" y2="194.35" stroke="#f8a83c" stroke-width="0.9"/><line x1="855.64" y1="184.77" x2="859.02" y2="189.12" stroke="#f8a83c" stroke-width="0.9"/><line x1="862.97" y1="180.12" x2="866.88" y2="187.79" stroke="#f8a83c" stroke-width="1.25"/><line x1="871.04" y1="176.93" x2="872.57" y2="182.21" stroke="#86cdec" stroke-width="0.9"/><line x1="879.56" y1="175.3" x2="880.08" y2="180.78" stroke="#86cdec" stroke-width="0.9"/><line x1="888.24" y1="175.3" x2="887.72" y2="180.78" stroke="#86cdec" stroke-width="0.9"/><line x1="896.76" y1="176.93" x2="895.23" y2="182.21" stroke="#86cdec" stroke-width="0.9"/><line x1="904.83" y1="180.12" x2="900.92" y2="187.79" stroke="#86cdec" stroke-width="1.25"/><line x1="912.16" y1="184.77" x2="908.78" y2="189.12" stroke="#86cdec" stroke-width="0.9"/><line x1="918.48" y1="190.71" x2="914.35" y2="194.35" stroke="#86cdec" stroke-width="0.9"/><line x1="923.58" y1="197.73" x2="918.85" y2="200.53" stroke="#86cdec" stroke-width="0.9"/><line x1="927.27" y1="205.58" x2="922.1" y2="207.45" stroke="#86cdec" stroke-width="0.9"/><line x1="929.43" y1="213.99" x2="920.94" y2="215.33" stroke="#86cdec" stroke-width="1.25"/><line x1="929.98" y1="222.65" x2="924.48" y2="222.48" stroke="#ea5430" stroke-width="0.9"/><line x1="928.89" y1="231.26" x2="923.52" y2="230.06" stroke="#ea5430" stroke-width="0.9"/><line x1="926.21" y1="239.51" x2="921.16" y2="237.32" stroke="#ea5430" stroke-width="0.9"/><line x1="922.03" y1="247.11" x2="917.48" y2="244.02" stroke="#ea5430" stroke-width="0.9"/><line x1="916.5" y1="253.8" x2="910.42" y2="247.72" stroke="#ea5430" stroke-width="1.25"/><text x="859.1" y="243.34" font-size="7.6" fill="#ececec" stroke="#ececec" stroke-width="0.18" xml:space="preserve">0</text><text x="849.4" y="217.84" font-size="7.6" fill="#ececec" stroke="#ececec" stroke-width="0.18" textLength="8.45" lengthAdjust="spacing" xml:space="preserve">40</text><text x="868.5" y="197.54" font-size="7.6" fill="#ececec" stroke="#ececec" stroke-width="0.18" textLength="8.45" lengthAdjust="spacing" xml:space="preserve">80</text><text x="887.62" y="197.54" font-size="7.6" fill="#ececec" stroke="#ececec" stroke-width="0.18" textLength="12.68" lengthAdjust="spacing" xml:space="preserve">120</text><text x="905.22" y="217.84" font-size="7.6" fill="#ececec" stroke="#ececec" stroke-width="0.18" textLength="12.68" lengthAdjust="spacing" xml:space="preserve">160</text><text x="895.52" y="243.34" font-size="7.6" fill="#ececec" stroke="#ececec" stroke-width="0.18" textLength="12.68" lengthAdjust="spacing" xml:space="preserve">200</text><path d="M885 223.11L884.36 219.2L862.67 184.38L881.94 220.6z" fill="#f8a83c"/><text x="877.46" y="259.57" font-size="3.8" fill="#f8a83c" opacity="0.8" textLength="12.89" lengthAdjust="spacing" xml:space="preserve">38.90%</text><text x="995.25" y="159.66" font-size="9.5" fill="#f6f6f6">超额备付率</text><text x="994.39" y="169.39" font-size="9.7" fill="#f6f6f6" stroke="#f6f6f6" stroke-width="0.23" textLength="49.62" lengthAdjust="spacing" xml:space="preserve">2017-09-09</text><path d="M988.6 252.6A44.4 44.4 0 0 1 976.15 214.25" fill="none" stroke="#8eee90" stroke-width="3.4"/><path d="M976.15 214.25A44.4 44.4 0 0 1 999.84 181.64" fill="none" stroke="#f8a83c" stroke-width="3.4"/><path d="M999.84 181.64A44.4 44.4 0 0 1 1063.85 214.25" fill="none" stroke="#86cdec" stroke-width="3.4"/><path d="M1063.85 214.25A44.4 44.4 0 0 1 1051.4 252.6" fill="none" stroke="#ea5430" stroke-width="3.4"/><line x1="987.4" y1="253.8" x2="993.48" y2="247.72" stroke="#8eee90" stroke-width="1.25"/><line x1="980.69" y1="245.29" x2="985.38" y2="242.41" stroke="#8eee90" stroke-width="0.9"/><line x1="976.16" y1="235.45" x2="981.39" y2="233.75" stroke="#8eee90" stroke-width="0.9"/><line x1="974.04" y1="224.82" x2="979.53" y2="224.39" stroke="#8eee90" stroke-width="0.9"/><line x1="974.47" y1="213.99" x2="979.9" y2="214.85" stroke="#8eee90" stroke-width="0.9"/><line x1="977.41" y1="203.56" x2="985.35" y2="206.85" stroke="#f8a83c" stroke-width="1.25"/><line x1="982.7" y1="194.1" x2="987.15" y2="197.34" stroke="#f8a83c" stroke-width="0.9"/><line x1="990.06" y1="186.15" x2="993.63" y2="190.33" stroke="#f8a83c" stroke-width="0.9"/><line x1="999.07" y1="180.12" x2="1001.57" y2="185.03" stroke="#f8a83c" stroke-width="0.9"/><line x1="1009.24" y1="176.37" x2="1010.52" y2="181.72" stroke="#86cdec" stroke-width="0.9"/><line x1="1020" y1="175.1" x2="1020" y2="183.7" stroke="#86cdec" stroke-width="1.25"/><line x1="1030.76" y1="176.37" x2="1029.48" y2="181.72" stroke="#86cdec" stroke-width="0.9"/><line x1="1040.93" y1="180.12" x2="1038.43" y2="185.03" stroke="#86cdec" stroke-width="0.9"/><line x1="1049.94" y1="186.15" x2="1046.37" y2="190.33" stroke="#86cdec" stroke-width="0.9"/><line x1="1057.3" y1="194.1" x2="1052.85" y2="197.34" stroke="#86cdec" stroke-width="0.9"/><line x1="1062.59" y1="203.56" x2="1054.65" y2="206.85" stroke="#86cdec" stroke-width="1.25"/><line x1="1065.53" y1="213.99" x2="1060.1" y2="214.85" stroke="#86cdec" stroke-width="0.9"/><line x1="1065.96" y1="224.82" x2="1060.47" y2="224.39" stroke="#ea5430" stroke-width="0.9"/><line x1="1063.84" y1="235.45" x2="1058.61" y2="233.75" stroke="#ea5430" stroke-width="0.9"/><line x1="1059.31" y1="245.29" x2="1054.62" y2="242.41" stroke="#ea5430" stroke-width="0.9"/><line x1="1052.6" y1="253.8" x2="1046.52" y2="247.72" stroke="#ea5430" stroke-width="1.25"/><text x="995.8" y="243.54" font-size="7.6" fill="#ececec" stroke="#ececec" stroke-width="0.18" textLength="6.76" lengthAdjust="spacing" xml:space="preserve">-1</text><text x="987.3" y="215.84" font-size="7.6" fill="#ececec" stroke="#ececec" stroke-width="0.18" xml:space="preserve">0</text><text x="1017.89" y="194.04" font-size="7.6" fill="#ececec" stroke="#ececec" stroke-width="0.18" xml:space="preserve">1</text><text x="1048.47" y="215.84" font-size="7.6" fill="#ececec" stroke="#ececec" stroke-width="0.18" xml:space="preserve">2</text><text x="1040.47" y="243.54" font-size="7.6" fill="#ececec" stroke="#ececec" stroke-width="0.18" xml:space="preserve">3</text><path d="M1021.55 222.76L1019.94 219.15L990.04 191.05L1017.95 221.12z" fill="#f8a83c"/><text x="1013.56" y="259.57" font-size="3.8" fill="#f8a83c" opacity="0.8" textLength="12.89" lengthAdjust="spacing" xml:space="preserve">33.40%</text><text x="546" y="282.49" font-size="9.3" fill="#f0f0f0">准备金数据</text><text x="556.2" y="294.31" font-size="8.3" fill="#f0f0f0">金额</text><text x="1024.5" y="294.31" font-size="8.3" fill="#f0f0f0">超备率</text><text x="1049.4" y="294.3" font-size="8.6" fill="#f0f0f0" stroke="#f0f0f0" stroke-width="0.21" xml:space="preserve">%</text><rect x="740" y="273.6" width="14.2" height="7.8" rx="1.6" fill="#0b63c9"/><text x="756.8" y="280.96" font-size="8.7" fill="#f0f0f0">超额准备金</text><rect x="807.6" y="273.6" width="14.2" height="7.8" rx="1.6" fill="#3398fd"/><text x="824.4" y="280.96" font-size="8.7" fill="#f0f0f0">现金</text><line x1="846.2" y1="277.5" x2="860.4" y2="277.5" stroke="#55c6ea" stroke-width="1.1" stroke-dasharray="3.4 7.4 3.4"/><circle cx="853.3" cy="277.5" r="2.5" fill="#55c6ea"/><text x="865.2" y="280.96" font-size="8.7" fill="#f0f0f0">超备率</text><line x1="564.8" y1="418.3" x2="1039.2" y2="418.3" stroke="#2a2a2a" stroke-width="0.9"/><line x1="564.8" y1="388.82" x2="1039.2" y2="388.82" stroke="#2a2a2a" stroke-width="0.9"/><line x1="564.8" y1="359.35" x2="1039.2" y2="359.35" stroke="#2a2a2a" stroke-width="0.9"/><line x1="564.8" y1="329.88" x2="1039.2" y2="329.88" stroke="#2a2a2a" stroke-width="0.9"/><line x1="564.8" y1="300.4" x2="1039.2" y2="300.4" stroke="#2a2a2a" stroke-width="0.9"/><text x="556.22" y="416.3" font-size="8.6" fill="#dcdcdc" stroke="#dcdcdc" stroke-width="0.21" xml:space="preserve">0</text><text x="1043.9" y="416.3" font-size="8.6" fill="#dcdcdc" stroke="#dcdcdc" stroke-width="0.21" textLength="12.43" lengthAdjust="spacing" xml:space="preserve">0%</text><text x="551.43" y="392.3" font-size="8.6" fill="#dcdcdc" stroke="#dcdcdc" stroke-width="0.21" textLength="9.57" lengthAdjust="spacing" xml:space="preserve">25</text><text x="1043.9" y="392.3" font-size="8.6" fill="#dcdcdc" stroke="#dcdcdc" stroke-width="0.21" textLength="19.6" lengthAdjust="spacing" xml:space="preserve">0.1%</text><text x="551.43" y="362.7" font-size="8.6" fill="#dcdcdc" stroke="#dcdcdc" stroke-width="0.21" textLength="9.57" lengthAdjust="spacing" xml:space="preserve">50</text><text x="1043.9" y="362.7" font-size="8.6" fill="#dcdcdc" stroke="#dcdcdc" stroke-width="0.21" textLength="19.6" lengthAdjust="spacing" xml:space="preserve">0.2%</text><text x="551.43" y="333" font-size="8.6" fill="#dcdcdc" stroke="#dcdcdc" stroke-width="0.21" textLength="9.57" lengthAdjust="spacing" xml:space="preserve">75</text><text x="1043.9" y="333" font-size="8.6" fill="#dcdcdc" stroke="#dcdcdc" stroke-width="0.21" textLength="19.6" lengthAdjust="spacing" xml:space="preserve">0.3%</text><text x="546.65" y="309.5" font-size="8.6" fill="#dcdcdc" stroke="#dcdcdc" stroke-width="0.21" textLength="14.35" lengthAdjust="spacing" xml:space="preserve">100</text><text x="1043.9" y="309.5" font-size="8.6" fill="#dcdcdc" stroke="#dcdcdc" stroke-width="0.21" textLength="19.6" lengthAdjust="spacing" xml:space="preserve">0.4%</text><line x1="1039.2" y1="418.3" x2="1041.8" y2="418.3" stroke="#8a8a8a" stroke-width="0.8"/><line x1="562.1999999999999" y1="418.3" x2="564.8" y2="418.3" stroke="#8a8a8a" stroke-width="0.8"/><line x1="1039.2" y1="388.82" x2="1041.8" y2="388.82" stroke="#8a8a8a" stroke-width="0.8"/><line x1="562.1999999999999" y1="388.82" x2="564.8" y2="388.82" stroke="#8a8a8a" stroke-width="0.8"/><line x1="1039.2" y1="359.35" x2="1041.8" y2="359.35" stroke="#8a8a8a" stroke-width="0.8"/><line x1="562.1999999999999" y1="359.35" x2="564.8" y2="359.35" stroke="#8a8a8a" stroke-width="0.8"/><line x1="1039.2" y1="329.88" x2="1041.8" y2="329.88" stroke="#8a8a8a" stroke-width="0.8"/><line x1="562.1999999999999" y1="329.88" x2="564.8" y2="329.88" stroke="#8a8a8a" stroke-width="0.8"/><line x1="1039.2" y1="300.4" x2="1041.8" y2="300.4" stroke="#8a8a8a" stroke-width="0.8"/><line x1="562.1999999999999" y1="300.4" x2="564.8" y2="300.4" stroke="#8a8a8a" stroke-width="0.8"/><rect x="573.94" y="315.14" width="33.6" height="103.16" fill="#0b63c9"/><rect x="616.54" y="339.78" width="33.6" height="78.52" fill="#3398fd"/><text x="601.24" y="432.3" font-size="8.6" fill="#dcdcdc" stroke="#dcdcdc" stroke-width="0.21" textLength="22" lengthAdjust="spacing" xml:space="preserve">09-05</text><rect x="668.82" y="315.14" width="33.6" height="103.16" fill="#0b63c9"/><rect x="711.42" y="339.78" width="33.6" height="78.52" fill="#3398fd"/><text x="696.12" y="432.3" font-size="8.6" fill="#dcdcdc" stroke="#dcdcdc" stroke-width="0.21" textLength="22" lengthAdjust="spacing" xml:space="preserve">09-06</text><rect x="763.7" y="315.14" width="33.6" height="103.16" fill="#0b63c9"/><rect x="806.3" y="339.78" width="33.6" height="78.52" fill="#3398fd"/><text x="791" y="432.3" font-size="8.6" fill="#dcdcdc" stroke="#dcdcdc" stroke-width="0.21" textLength="22" lengthAdjust="spacing" xml:space="preserve">09-07</text><rect x="858.58" y="315.14" width="33.6" height="103.16" fill="#0b63c9"/><rect x="901.18" y="339.78" width="33.6" height="78.52" fill="#3398fd"/><text x="885.88" y="432.3" font-size="8.6" fill="#dcdcdc" stroke="#dcdcdc" stroke-width="0.21" textLength="22" lengthAdjust="spacing" xml:space="preserve">09-08</text><rect x="953.46" y="315.14" width="33.6" height="103.16" fill="#0b63c9"/><rect x="996.06" y="339.78" width="33.6" height="78.52" fill="#3398fd"/><text x="980.76" y="432.3" font-size="8.6" fill="#dcdcdc" stroke="#dcdcdc" stroke-width="0.21" textLength="22" lengthAdjust="spacing" xml:space="preserve">09-09</text><line x1="565.0999999999999" y1="300.4" x2="565.0999999999999" y2="418.3" stroke="#8a8a8a" stroke-width="0.9"/><line x1="1039.2" y1="300.4" x2="1039.2" y2="418.3" stroke="#8a8a8a" stroke-width="0.9"/><line x1="564.8" y1="418.3" x2="1039.2" y2="418.3" stroke="#a8a8a8" stroke-width="1.1"/><line x1="612.24" y1="321" x2="991.76" y2="321" stroke="#63cdec" stroke-width="1.2"/><circle cx="612.24" cy="321" r="2.2" fill="#63cdec"/><circle cx="707.12" cy="321" r="2.2" fill="#63cdec"/><circle cx="802" cy="321" r="2.2" fill="#63cdec"/><circle cx="896.88" cy="321" r="2.2" fill="#63cdec"/><circle cx="991.76" cy="321" r="2.2" fill="#63cdec"/><text x="24.3" y="450.18" font-size="9" fill="#fafafa" font-weight="bold">数据日期</text><text x="82.9" y="450.18" font-size="9" fill="#fafafa" font-weight="bold">日期</text><text x="115.44" y="449.97" font-size="8.8" fill="#fafafa" stroke="#fafafa" stroke-width="0.21" font-weight="bold" textLength="47.91" lengthAdjust="spacing" xml:space="preserve">SHIBOR(%)</text><text x="199.66" y="450.18" font-size="9" fill="#fafafa" font-weight="bold">比上日</text><text x="226.66" y="449.97" font-size="8.8" fill="#fafafa" stroke="#fafafa" stroke-width="0.21" font-weight="bold" textLength="13.69" lengthAdjust="spacing" xml:space="preserve">(%)</text><text x="258.85" y="450.18" font-size="9" fill="#fafafa" font-weight="bold">负债</text><text x="276.85" y="449.97" font-size="8.8" fill="#fafafa" stroke="#fafafa" stroke-width="0.21" font-weight="bold" textLength="30.31" lengthAdjust="spacing" xml:space="preserve">FTP(%)</text><text x="341.46" y="450.18" font-size="9" fill="#fafafa" font-weight="bold">比上日</text><text x="368.46" y="449.97" font-size="8.8" fill="#fafafa" stroke="#fafafa" stroke-width="0.21" font-weight="bold" textLength="18.09" lengthAdjust="spacing" xml:space="preserve">(BP)</text><text x="402.55" y="450.18" font-size="9" fill="#fafafa" font-weight="bold">资产</text><text x="420.55" y="449.97" font-size="8.8" fill="#fafafa" stroke="#fafafa" stroke-width="0.21" font-weight="bold" textLength="30.31" lengthAdjust="spacing" xml:space="preserve">FTP(%)</text><text x="481.96" y="450.18" font-size="9" fill="#fafafa" font-weight="bold">比上日</text><text x="508.96" y="449.97" font-size="8.8" fill="#fafafa" stroke="#fafafa" stroke-width="0.21" font-weight="bold" textLength="18.09" lengthAdjust="spacing" xml:space="preserve">(BP)</text><text x="20.5" y="469.4" font-size="8.6" fill="#e6e6e6" stroke="#e6e6e6" stroke-width="0.21" textLength="43.99" lengthAdjust="spacing" xml:space="preserve">2017-09-04</text><text x="83.75" y="469.4" font-size="8.6" fill="#e6e6e6" stroke="#e6e6e6" stroke-width="0.21" textLength="12.9" lengthAdjust="spacing" xml:space="preserve">1W</text><text x="121.25" y="469.4" font-size="8.6" fill="#e6e6e6" stroke="#e6e6e6" stroke-width="0.21" textLength="26.3" lengthAdjust="spacing" xml:space="preserve">2.8657</text><path d="M166.3 462.8h6.6l-3.3 6.4z" fill="#1f6fd6"/><text x="199.38" y="469.4" font-size="8.6" fill="#e6e6e6" stroke="#e6e6e6" stroke-width="0.21" textLength="32.03" lengthAdjust="spacing" xml:space="preserve">-26.14%</text><text x="265.35" y="469.4" font-size="8.6" fill="#e6e6e6" stroke="#e6e6e6" stroke-width="0.21" textLength="26.3" lengthAdjust="spacing" xml:space="preserve">3.6000</text><path d="M310.4 469h6.6l-3.3-6.4z" fill="#ee5a35"/><text x="344.62" y="469.4" font-size="8.6" fill="#e6e6e6" stroke="#e6e6e6" stroke-width="0.21" textLength="29.17" lengthAdjust="spacing" xml:space="preserve">24.14%</text><text x="409.05" y="469.4" font-size="8.6" fill="#e6e6e6" stroke="#e6e6e6" stroke-width="0.21" textLength="26.3" lengthAdjust="spacing" xml:space="preserve">3.8000</text><path d="M453.6 469h6.6l-3.3-6.4z" fill="#ee5a35"/><text x="489.41" y="469.4" font-size="8.6" fill="#e6e6e6" stroke="#e6e6e6" stroke-width="0.21" textLength="24.38" lengthAdjust="spacing" xml:space="preserve">8.57%</text><text x="20.5" y="481.3" font-size="8.6" fill="#e6e6e6" stroke="#e6e6e6" stroke-width="0.21" textLength="43.99" lengthAdjust="spacing" xml:space="preserve">2017-09-04</text><text x="83.75" y="481.3" font-size="8.6" fill="#e6e6e6" stroke="#e6e6e6" stroke-width="0.21" textLength="12.9" lengthAdjust="spacing" xml:space="preserve">2W</text><text x="121.25" y="481.3" font-size="8.6" fill="#e6e6e6" stroke="#e6e6e6" stroke-width="0.21" textLength="26.3" lengthAdjust="spacing" xml:space="preserve">3.7000</text><path d="M166.3 480.9h6.6l-3.3-6.4z" fill="#ee5a35"/><text x="200.82" y="481.3" font-size="8.6" fill="#e6e6e6" stroke="#e6e6e6" stroke-width="0.21" textLength="29.17" lengthAdjust="spacing" xml:space="preserve">52.96%</text><text x="265.35" y="481.3" font-size="8.6" fill="#e6e6e6" stroke="#e6e6e6" stroke-width="0.21" textLength="26.3" lengthAdjust="spacing" xml:space="preserve">3.8000</text><path d="M310.4 480.9h6.6l-3.3-6.4z" fill="#ee5a35"/><text x="344.62" y="481.3" font-size="8.6" fill="#e6e6e6" stroke="#e6e6e6" stroke-width="0.21" textLength="29.17" lengthAdjust="spacing" xml:space="preserve">11.76%</text><text x="409.05" y="481.3" font-size="8.6" fill="#e6e6e6" stroke="#e6e6e6" stroke-width="0.21" textLength="26.3" lengthAdjust="spacing" xml:space="preserve">4.2000</text><path d="M453.6 474.7h6.6l-3.3 6.4z" fill="#1f6fd6"/><text x="487.98" y="481.3" font-size="8.6" fill="#e6e6e6" stroke="#e6e6e6" stroke-width="0.21" textLength="27.25" lengthAdjust="spacing" xml:space="preserve">-6.67%</text><text x="20.5" y="493.2" font-size="8.6" fill="#e6e6e6" stroke="#e6e6e6" stroke-width="0.21" textLength="43.99" lengthAdjust="spacing" xml:space="preserve">2017-09-04</text><text x="84.23" y="493.2" font-size="8.6" fill="#e6e6e6" stroke="#e6e6e6" stroke-width="0.21" textLength="11.95" lengthAdjust="spacing" xml:space="preserve">1M</text><text x="121.25" y="493.2" font-size="8.6" fill="#e6e6e6" stroke="#e6e6e6" stroke-width="0.21" textLength="26.3" lengthAdjust="spacing" xml:space="preserve">3.8828</text><path d="M166.3 492.8h6.6l-3.3-6.4z" fill="#ee5a35"/><text x="200.82" y="493.2" font-size="8.6" fill="#e6e6e6" stroke="#e6e6e6" stroke-width="0.21" textLength="29.17" lengthAdjust="spacing" xml:space="preserve">27.01%</text><text x="265.35" y="493.2" font-size="8.6" fill="#e6e6e6" stroke="#e6e6e6" stroke-width="0.21" textLength="26.3" lengthAdjust="spacing" xml:space="preserve">3.9000</text><path d="M310.4 492.8h6.6l-3.3-6.4z" fill="#ee5a35"/><text x="344.62" y="493.2" font-size="8.6" fill="#e6e6e6" stroke="#e6e6e6" stroke-width="0.21" textLength="29.17" lengthAdjust="spacing" xml:space="preserve">14.71%</text><text x="409.05" y="493.2" font-size="8.6" fill="#e6e6e6" stroke="#e6e6e6" stroke-width="0.21" textLength="26.3" lengthAdjust="spacing" xml:space="preserve">4.3000</text><path d="M453.6 492.8h6.6l-3.3-6.4z" fill="#ee5a35"/><text x="487.02" y="493.2" font-size="8.6" fill="#e6e6e6" stroke="#e6e6e6" stroke-width="0.21" textLength="29.17" lengthAdjust="spacing" xml:space="preserve">22.86%</text><text x="20.5" y="505.1" font-size="8.6" fill="#e6e6e6" stroke="#e6e6e6" stroke-width="0.21" textLength="43.99" lengthAdjust="spacing" xml:space="preserve">2017-09-04</text><text x="84.23" y="505.1" font-size="8.6" fill="#e6e6e6" stroke="#e6e6e6" stroke-width="0.21" textLength="11.95" lengthAdjust="spacing" xml:space="preserve">3M</text><text x="121.25" y="505.1" font-size="8.6" fill="#e6e6e6" stroke="#e6e6e6" stroke-width="0.21" textLength="26.3" lengthAdjust="spacing" xml:space="preserve">4.2724</text><path d="M166.3 504.7h6.6l-3.3-6.4z" fill="#ee5a35"/><text x="200.82" y="505.1" font-size="8.6" fill="#e6e6e6" stroke="#e6e6e6" stroke-width="0.21" textLength="29.17" lengthAdjust="spacing" xml:space="preserve">39.75%</text><text x="265.35" y="505.1" font-size="8.6" fill="#e6e6e6" stroke="#e6e6e6" stroke-width="0.21" textLength="26.3" lengthAdjust="spacing" xml:space="preserve">4.2500</text><path d="M310.4 498.5h6.6l-3.3 6.4z" fill="#1f6fd6"/><text x="345.58" y="505.1" font-size="8.6" fill="#e6e6e6" stroke="#e6e6e6" stroke-width="0.21" textLength="27.25" lengthAdjust="spacing" xml:space="preserve">-8.60%</text><text x="409.05" y="505.1" font-size="8.6" fill="#e6e6e6" stroke="#e6e6e6" stroke-width="0.21" textLength="26.3" lengthAdjust="spacing" xml:space="preserve">4.4000</text><path d="M453.6 498.5h6.6l-3.3 6.4z" fill="#1f6fd6"/><text x="487.98" y="505.1" font-size="8.6" fill="#e6e6e6" stroke="#e6e6e6" stroke-width="0.21" textLength="27.25" lengthAdjust="spacing" xml:space="preserve">-8.33%</text><text x="20.5" y="517" font-size="8.6" fill="#e6e6e6" stroke="#e6e6e6" stroke-width="0.21" textLength="43.99" lengthAdjust="spacing" xml:space="preserve">2017-09-04</text><text x="84.23" y="517" font-size="8.6" fill="#e6e6e6" stroke="#e6e6e6" stroke-width="0.21" textLength="11.95" lengthAdjust="spacing" xml:space="preserve">6M</text><text x="121.25" y="517" font-size="8.6" fill="#e6e6e6" stroke="#e6e6e6" stroke-width="0.21" textLength="26.3" lengthAdjust="spacing" xml:space="preserve">4.3562</text><path d="M166.3 516.6h6.6l-3.3-6.4z" fill="#ee5a35"/><text x="200.82" y="517" font-size="8.6" fill="#e6e6e6" stroke="#e6e6e6" stroke-width="0.21" textLength="29.17" lengthAdjust="spacing" xml:space="preserve">42.49%</text><text x="265.35" y="517" font-size="8.6" fill="#e6e6e6" stroke="#e6e6e6" stroke-width="0.21" textLength="26.3" lengthAdjust="spacing" xml:space="preserve">4.3500</text><path d="M310.4 516.6h6.6l-3.3-6.4z" fill="#ee5a35"/><text x="344.62" y="517" font-size="8.6" fill="#e6e6e6" stroke="#e6e6e6" stroke-width="0.21" textLength="29.17" lengthAdjust="spacing" xml:space="preserve">27.94%</text><text x="409.05" y="517" font-size="8.6" fill="#e6e6e6" stroke="#e6e6e6" stroke-width="0.21" textLength="26.3" lengthAdjust="spacing" xml:space="preserve">4.5500</text><path d="M453.6 516.6h6.6l-3.3-6.4z" fill="#ee5a35"/><text x="487.02" y="517" font-size="8.6" fill="#e6e6e6" stroke="#e6e6e6" stroke-width="0.21" textLength="29.17" lengthAdjust="spacing" xml:space="preserve">30.00%</text><text x="553.4" y="450.38" font-size="9" fill="#fafafa" font-weight="bold">项目名称</text><text x="664" y="450.38" font-size="9" fill="#fafafa" font-weight="bold">数据时间</text><text x="738.5" y="450.38" font-size="9" fill="#fafafa" font-weight="bold">当期值</text><text x="798.2" y="450.38" font-size="9" fill="#fafafa" font-weight="bold">比上日</text><text x="553.4" y="468.21" font-size="8.55" fill="#e6e6e6">同业负债占比</text><text x="659.7" y="468.1" font-size="8.6" fill="#e6e6e6" stroke="#e6e6e6" stroke-width="0.21" textLength="43.99" lengthAdjust="spacing" xml:space="preserve">2017-09-02</text><text x="737.02" y="468.1" font-size="8.6" fill="#e6e6e6" stroke="#e6e6e6" stroke-width="0.21" textLength="29.17" lengthAdjust="spacing" xml:space="preserve">23.53%</text><path d="M781.7 461.5h6.6l-3.3 6.4z" fill="#1f6fd6"/><text x="798.6" y="468.1" font-size="8.6" fill="#e6e6e6" stroke="#e6e6e6" stroke-width="0.21" textLength="27.25" lengthAdjust="spacing" xml:space="preserve">-0.17%</text><text x="553.4" y="482.86" font-size="8.55" fill="#e6e6e6">同业资产占比</text><text x="659.7" y="482.75" font-size="8.6" fill="#e6e6e6" stroke="#e6e6e6" stroke-width="0.21" textLength="43.99" lengthAdjust="spacing" xml:space="preserve">2017-09-02</text><text x="739.41" y="482.75" font-size="8.6" fill="#e6e6e6" stroke="#e6e6e6" stroke-width="0.21" textLength="24.38" lengthAdjust="spacing" xml:space="preserve">4.00%</text><text x="798.6" y="482.75" font-size="8.6" fill="#e6e6e6" stroke="#e6e6e6" stroke-width="0.21" textLength="24.38" lengthAdjust="spacing" xml:space="preserve">0.00%</text><text x="553.4" y="497.51" font-size="8.55" fill="#e6e6e6">同业活期存款余额</text><text x="659.7" y="497.4" font-size="8.6" fill="#e6e6e6" stroke="#e6e6e6" stroke-width="0.21" textLength="43.99" lengthAdjust="spacing" xml:space="preserve">2017-09-02</text><text x="736.06" y="497.4" font-size="8.6" fill="#e6e6e6" stroke="#e6e6e6" stroke-width="0.21" textLength="31.09" lengthAdjust="spacing" xml:space="preserve">1908.75</text><path d="M781.7 497h6.6l-3.3-6.4z" fill="#ee5a35"/><text x="798.6" y="497.4" font-size="8.6" fill="#e6e6e6" stroke="#e6e6e6" stroke-width="0.21" xml:space="preserve">6</text><text x="553.4" y="512.16" font-size="8.55" fill="#e6e6e6">同业活期存款占比</text><text x="659.7" y="512.05" font-size="8.6" fill="#e6e6e6" stroke="#e6e6e6" stroke-width="0.21" textLength="43.99" lengthAdjust="spacing" xml:space="preserve">2017-09-02</text><text x="737.02" y="512.05" font-size="8.6" fill="#e6e6e6" stroke="#e6e6e6" stroke-width="0.21" textLength="29.17" lengthAdjust="spacing" xml:space="preserve">11.30%</text><text x="798.6" y="512.05" font-size="8.6" fill="#e6e6e6" stroke="#e6e6e6" stroke-width="0.21" textLength="24.38" lengthAdjust="spacing" xml:space="preserve">0.00%</text><text x="859.8" y="450.38" font-size="9" fill="#fafafa" font-weight="bold">项目名称</text><text x="977.1" y="450.38" font-size="9" fill="#fafafa" font-weight="bold">当期值</text><text x="1037.6" y="450.38" font-size="9" fill="#fafafa" font-weight="bold">比上日</text><text x="859.8" y="468.21" font-size="8.55" fill="#e6e6e6">未来一日现金缺口</text><text x="984.29" y="468.1" font-size="8.6" fill="#e6e6e6" stroke="#e6e6e6" stroke-width="0.21" textLength="12.43" lengthAdjust="spacing" xml:space="preserve">-57</text><path d="M1021.9 461.5h6.6l-3.3 6.4z" fill="#1f6fd6"/><text x="1038.4" y="468.1" font-size="8.6" fill="#e6e6e6" stroke="#e6e6e6" stroke-width="0.21" textLength="17.21" lengthAdjust="spacing" xml:space="preserve">-532</text><text x="859.8" y="482.86" font-size="8.55" fill="#e6e6e6">未来</text><text x="876.9" y="482.75" font-size="8.6" fill="#e6e6e6" stroke="#e6e6e6" stroke-width="0.21" textLength="12.43" lengthAdjust="spacing" xml:space="preserve">2-7</text><text x="889.33" y="482.86" font-size="8.55" fill="#e6e6e6">日现金缺口</text><text x="981.89" y="482.75" font-size="8.6" fill="#e6e6e6" stroke="#e6e6e6" stroke-width="0.21" textLength="17.21" lengthAdjust="spacing" xml:space="preserve">-698</text><path d="M1021.9 476.15h6.6l-3.3 6.4z" fill="#1f6fd6"/><text x="1038.4" y="482.75" font-size="8.6" fill="#e6e6e6" stroke="#e6e6e6" stroke-width="0.21" textLength="17.21" lengthAdjust="spacing" xml:space="preserve">-115</text><text x="859.8" y="497.51" font-size="8.55" fill="#e6e6e6">未来</text><text x="876.9" y="497.4" font-size="8.6" fill="#e6e6e6" stroke="#e6e6e6" stroke-width="0.21" textLength="17.21" lengthAdjust="spacing" xml:space="preserve">8-30</text><text x="894.11" y="497.51" font-size="8.55" fill="#e6e6e6">日现金缺口</text><text x="979.5" y="497.4" font-size="8.6" fill="#e6e6e6" stroke="#e6e6e6" stroke-width="0.21" textLength="22" lengthAdjust="spacing" xml:space="preserve">-1821</text><path d="M1021.9 497h6.6l-3.3-6.4z" fill="#ee5a35"/><text x="1038.4" y="497.4" font-size="8.6" fill="#e6e6e6" stroke="#e6e6e6" stroke-width="0.21" textLength="14.35" lengthAdjust="spacing" xml:space="preserve">172</text><text x="859.8" y="512.16" font-size="8.55" fill="#e6e6e6">未来一月缺口合计</text><text x="979.5" y="512.05" font-size="8.6" fill="#e6e6e6" stroke="#e6e6e6" stroke-width="0.21" textLength="22" lengthAdjust="spacing" xml:space="preserve">-2577</text><path d="M1021.9 511.65h6.6l-3.3-6.4z" fill="#ee5a35"/><text x="1038.4" y="512.05" font-size="8.6" fill="#e6e6e6" stroke="#e6e6e6" stroke-width="0.21" textLength="14.35" lengthAdjust="spacing" xml:space="preserve">443</text><path d="M0.48 104.82L75.11 60.69L74.89 60.31L-0.48 103.18z" fill="url(#k0)"/><path d="M51.18 304.02L190.11 222.69L189.89 222.31L50.22 302.38z" fill="url(#k1)"/><path d="M227.28 259.08L290.11 222.19L289.89 221.81L226.72 258.12z" fill="url(#k2)"/><path d="M61.5 423.87L150.11 371.69L149.89 371.31L60.5 422.13z" fill="url(#k3)"/><path d="M211.28 439.48L262.11 409.69L261.89 409.31L210.72 438.52z" fill="url(#k4)"/><path d="M470.5 382.07L548.11 336.19L547.89 335.81L469.5 380.33z" fill="url(#k5)"/><path d="M531.98 439.48L580.11 411.19L579.89 410.81L531.42 438.52z" fill="url(#k6)"/><path d="M633.88 213.22L765.11 136.19L764.89 135.81L632.92 211.58z" fill="url(#k7)"/><path d="M611.38 262.65L705.11 207.69L704.89 207.31L610.62 261.35z" fill="url(#k8)"/><path d="M798.43 318.73L865.11 279.19L864.89 278.81L797.57 317.27z" fill="url(#k9)"/><path d="M3 517.07L85.11 468.69L84.89 468.31L2 515.33z" fill="url(#k10)"/><path d="M144.5 481.87L262.11 413.19L261.89 412.81L143.5 480.13z" fill="url(#k11)"/><path d="M117.77 516.48L128.11 510.19L127.89 509.81L117.23 515.52z" fill="url(#k12)"/><path d="M486.7 467.07L575.11 415.19L574.89 414.81L485.7 465.33z" fill="url(#k13)"/><path d="M475.5 517.07L560.11 467.19L559.89 466.81L474.5 515.33z" fill="url(#k14)"/><path d="M579.1 516.89L665.11 466.69L664.89 466.31L578.3 515.51z" fill="url(#k15)"/><path d="M648.88 507.52L710.11 471.19L709.89 470.81L647.92 505.88z" fill="url(#k16)"/><path d="M720.9 468.87L790.11 428.19L789.89 427.81L719.9 467.13z" fill="url(#k17)"/><g fill="#fff"><rect x="167.9" y="61.95" width="1.8" height="1.1" rx="0.5"/><rect x="178" y="95.45" width="1.8" height="1.1" rx="0.5"/><rect x="34.1" y="132.45" width="1.8" height="1.1" rx="0.5"/><rect x="129.1" y="143.45" width="1.8" height="1.1" rx="0.5"/><rect x="190.1" y="122.15" width="1.8" height="1.1" rx="0.5"/><rect x="25.8" y="222.45" width="1.8" height="1.1" rx="0.5"/><rect x="141.9" y="181.15" width="1.8" height="1.1" rx="0.5"/><rect x="81.5" y="316.05" width="1.8" height="1.1" rx="0.5"/><rect x="66.1" y="355.85" width="1.8" height="1.1" rx="0.5"/><rect x="144.1" y="340.45" width="1.8" height="1.1" rx="0.5"/><rect x="100.6" y="374.15" width="1.8" height="1.1" rx="0.5"/><rect x="166.8" y="357.45" width="1.8" height="1.1" rx="0.5"/><rect x="206.1" y="377.75" width="1.8" height="1.1" rx="0.5"/><rect x="224.4" y="380.25" width="1.8" height="1.1" rx="0.5"/><rect x="243.9" y="377.45" width="1.8" height="1.1" rx="0.5"/><rect x="339.1" y="253.95" width="1.8" height="1.1" rx="0.5"/><rect x="386.7" y="257.25" width="1.8" height="1.1" rx="0.5"/><rect x="305.5" y="284.45" width="1.8" height="1.1" rx="0.5"/><rect x="472.8" y="328.25" width="1.8" height="1.1" rx="0.5"/><rect x="431.4" y="383.05" width="1.8" height="1.1" rx="0.5"/><rect x="566.6" y="385.95" width="1.8" height="1.1" rx="0.5"/><rect x="649.5" y="176.15" width="1.8" height="1.1" rx="0.5"/><rect x="685.3" y="249.25" width="1.8" height="1.1" rx="0.5"/><rect x="687.3" y="269.45" width="1.8" height="1.1" rx="0.5"/><rect x="577.7" y="306.85" width="1.8" height="1.1" rx="0.5"/><rect x="726.7" y="319.05" width="1.8" height="1.1" rx="0.5"/><rect x="786.8" y="222.05" width="1.8" height="1.1" rx="0.5"/><rect x="840.1" y="190.45" width="1.8" height="1.1" rx="0.5"/><rect x="924.5" y="274.45" width="1.8" height="1.1" rx="0.5"/><rect x="959.8" y="266.25" width="1.8" height="1.1" rx="0.5"/><rect x="990.1" y="177.45" width="1.8" height="1.1" rx="0.5"/><rect x="524.6" y="74.95" width="1.8" height="1.1" rx="0.5"/><rect x="454.1" y="96.45" width="1.8" height="1.1" rx="0.5"/><rect x="336.1" y="61.45" width="1.8" height="1.1" rx="0.5"/><rect x="612.1" y="49.95" width="1.8" height="1.1" rx="0.5"/><rect x="771.1" y="91.95" width="1.8" height="1.1" rx="0.5"/><rect x="574.1" y="100.45" width="1.8" height="1.1" rx="0.5"/><rect x="549.1" y="116.45" width="1.8" height="1.1" rx="0.5"/><rect x="942.6" y="436.95" width="1.8" height="1.1" rx="0.5"/><rect x="772.1" y="488.45" width="1.8" height="1.1" rx="0.5"/><rect x="602.1" y="472.45" width="1.8" height="1.1" rx="0.5"/></g><rect x="0" y="525.6" width="1080" height="14.6" fill="#47bccf"/><rect x="0" y="540.2" width="1080" height="1.8" fill="#06262c"/><text x="2.6" y="538.19" font-size="8.5" fill="#2c3b40">当前大额清算状态</text><text x="70.6" y="538.1" font-size="8.6" fill="#2c3b40" stroke="#2c3b40" stroke-width="0.21" xml:space="preserve">:</text><text x="72.99" y="538.19" font-size="8.5" fill="#2c3b40">日间</text><text x="89.99" y="538.1" font-size="8.6" fill="#2c3b40" stroke="#2c3b40" stroke-width="0.21" xml:space="preserve"> </text><text x="92.38" y="538.19" font-size="8.5" fill="#2c3b40">清算日期</text><text x="126.38" y="538.1" font-size="8.6" fill="#2c3b40" stroke="#2c3b40" stroke-width="0.21" textLength="46.38" lengthAdjust="spacing" xml:space="preserve">:2017-09-08</text><text x="790.2" y="538.19" font-size="8.5" fill="#2c3b40">未预报</text><text x="815.7" y="538.1" font-size="8.6" fill="#2c3b40" stroke="#2c3b40" stroke-width="0.21" xml:space="preserve">:</text><text x="818.09" y="538.19" font-size="8.5" fill="#2c3b40">无</text><text x="832.8" y="538.19" font-size="8.5" fill="#2c3b40">未报备</text><text x="858.3" y="538.1" font-size="8.6" fill="#2c3b40" stroke="#2c3b40" stroke-width="0.21" xml:space="preserve">:</text><text x="860.69" y="538.19" font-size="8.5" fill="#2c3b40">无</text><text x="876" y="538.19" font-size="8.5" fill="#2c3b40">超时调整</text><text x="910" y="538.1" font-size="8.6" fill="#2c3b40" stroke="#2c3b40" stroke-width="0.21" xml:space="preserve">:</text><text x="912.39" y="538.19" font-size="8.5" fill="#2c3b40">无</text><text x="927.6" y="538.19" font-size="8.5" fill="#2c3b40">超时排队调整</text><text x="978.6" y="538.1" font-size="8.6" fill="#2c3b40" stroke="#2c3b40" stroke-width="0.21" xml:space="preserve">:</text><text x="980.99" y="538.19" font-size="8.5" fill="#2c3b40">无</text><circle cx="1082.5" cy="523" r="15.6" fill="#3ea55e" fill-opacity="0.56" stroke="#bfe8c6" stroke-opacity="0.6" stroke-width="1"/><text x="1073.4" y="524.96" font-size="6" fill="#a9cfae" stroke="#a9cfae" stroke-width="0.14" opacity="0.8" textLength="6.67" lengthAdjust="spacing" xml:space="preserve">38</text></svg>
</body></html>
